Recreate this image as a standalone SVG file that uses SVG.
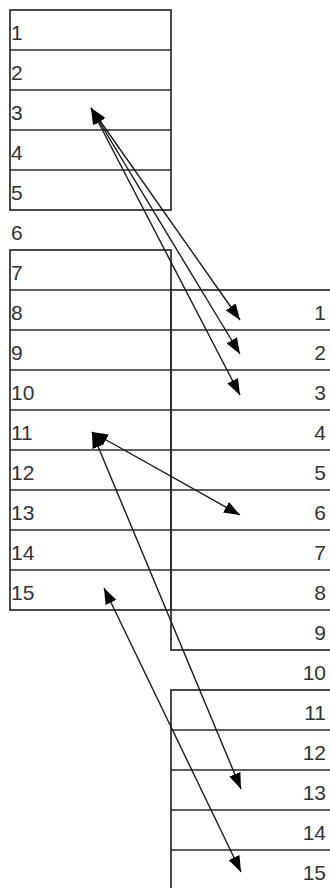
<svg xmlns="http://www.w3.org/2000/svg" width="330" height="888" viewBox="0 0 330 888">
<style>
.tb{fill:#fff;stroke:#2a2a2a;stroke-width:1.7}
.ln{stroke:#2a2a2a;stroke-width:1.7}
.t{font-family:"Liberation Sans",Arial,sans-serif;font-size:21px;fill:#333}
.r{text-anchor:end}
.c{stroke:#1a1a1a;stroke-width:1.4;fill:none;marker-start:url(#ah);marker-end:url(#ah)}
</style>
<defs>
<marker id="ah" markerUnits="userSpaceOnUse" markerWidth="16" markerHeight="12" refX="16" refY="6" orient="auto-start-reverse" viewBox="0 0 16 12">
<path d="M0,0 L16,6 L0,12 z" fill="#000"/>
</marker>
</defs>
<rect width="330" height="888" fill="#fff"/>
<g id="left-block-1">
<rect class="tb" x="10" y="10" width="161" height="200"/>
<line class="ln" x1="10" y1="50" x2="171" y2="50"/>
<line class="ln" x1="10" y1="90" x2="171" y2="90"/>
<line class="ln" x1="10" y1="130" x2="171" y2="130"/>
<line class="ln" x1="10" y1="170" x2="171" y2="170"/>
<text class="t" x="11" y="40">1</text>
<text class="t" x="11" y="80">2</text>
<text class="t" x="11" y="120">3</text>
<text class="t" x="11" y="160">4</text>
<text class="t" x="11" y="200">5</text>
</g>
<g id="left-row-6">
<text class="t" x="11" y="240">6</text>
</g>
<g id="right-block-1">
<rect class="tb" x="171" y="290" width="161" height="360"/>
<line class="ln" x1="171" y1="330" x2="332" y2="330"/>
<line class="ln" x1="171" y1="370" x2="332" y2="370"/>
<line class="ln" x1="171" y1="410" x2="332" y2="410"/>
<line class="ln" x1="171" y1="450" x2="332" y2="450"/>
<line class="ln" x1="171" y1="490" x2="332" y2="490"/>
<line class="ln" x1="171" y1="530" x2="332" y2="530"/>
<line class="ln" x1="171" y1="570" x2="332" y2="570"/>
<line class="ln" x1="171" y1="610" x2="332" y2="610"/>
<text class="t r" x="326" y="320">1</text>
<text class="t r" x="326" y="360">2</text>
<text class="t r" x="326" y="400">3</text>
<text class="t r" x="326" y="440">4</text>
<text class="t r" x="326" y="480">5</text>
<text class="t r" x="326" y="520">6</text>
<text class="t r" x="326" y="560">7</text>
<text class="t r" x="326" y="600">8</text>
<text class="t r" x="326" y="640">9</text>
</g>
<g id="left-block-2">
<rect class="tb" x="10" y="250" width="161" height="360" fill-opacity="0"/>
<line class="ln" x1="10" y1="290" x2="171" y2="290"/>
<line class="ln" x1="10" y1="330" x2="171" y2="330"/>
<line class="ln" x1="10" y1="370" x2="171" y2="370"/>
<line class="ln" x1="10" y1="410" x2="171" y2="410"/>
<line class="ln" x1="10" y1="450" x2="171" y2="450"/>
<line class="ln" x1="10" y1="490" x2="171" y2="490"/>
<line class="ln" x1="10" y1="530" x2="171" y2="530"/>
<line class="ln" x1="10" y1="570" x2="171" y2="570"/>
<text class="t" x="11" y="280">7</text>
<text class="t" x="11" y="320">8</text>
<text class="t" x="11" y="360">9</text>
<text class="t" x="11" y="400">10</text>
<text class="t" x="11" y="440">11</text>
<text class="t" x="11" y="480">12</text>
<text class="t" x="11" y="520">13</text>
<text class="t" x="11" y="560">14</text>
<text class="t" x="11" y="600">15</text>
</g>
<g id="right-row-10">
<text class="t r" x="326" y="680">10</text>
</g>
<g id="right-block-2">
<rect class="tb" x="171" y="690" width="161" height="202"/>
<line class="ln" x1="171" y1="730" x2="332" y2="730"/>
<line class="ln" x1="171" y1="770" x2="332" y2="770"/>
<line class="ln" x1="171" y1="810" x2="332" y2="810"/>
<line class="ln" x1="171" y1="850" x2="332" y2="850"/>
<text class="t r" x="326" y="720">11</text>
<text class="t r" x="326" y="760">12</text>
<text class="t r" x="326" y="800">13</text>
<text class="t r" x="326" y="840">14</text>
<text class="t r" x="326" y="880">15</text>
</g>
<g id="connectors">
<line class="c" x1="91" y1="108" x2="240" y2="320"/>
<line class="c" x1="91" y1="108" x2="240" y2="354"/>
<line class="c" x1="91" y1="108" x2="240" y2="395"/>
<line class="c" x1="92" y1="432" x2="240" y2="515"/>
<line class="c" x1="92" y1="432" x2="241" y2="789"/>
<line class="c" x1="104" y1="588" x2="241" y2="872"/>
</g>
</svg>
